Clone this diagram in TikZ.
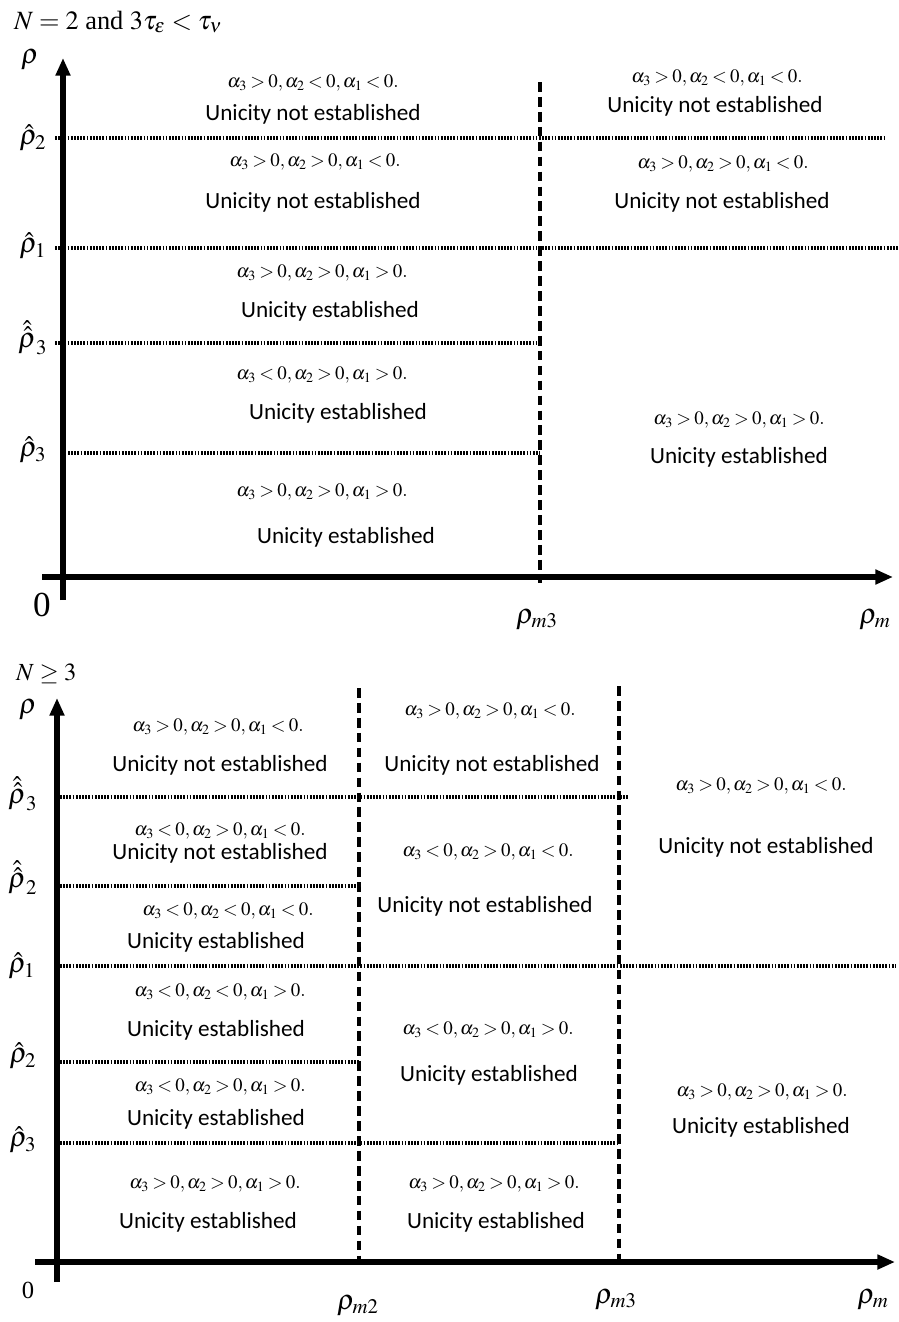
\documentclass[tikz,border=0pt]{standalone}
\usepackage{mathptmx}
\usepackage{fontspec}
\setmainfont{Liberation Serif}
\newfontfamily\calfont{Carlito}
\usetikzlibrary{arrows.meta}
\newcommand{\tightrel}{\thickmuskip=3mu\relax}
\tikzset{
    axis/.style={line width=3pt, -{Triangle[length=10pt,width=8pt]}},
    border/.style={line width=2.4pt, dash pattern=on 5.5pt off 3pt},
    level/.style={line width=1.9pt, dash pattern=on 1pt off 0.8pt},
    cond/.style={font=\fontsize{10.8}{12.5}\selectfont\tightrel},
    verdict/.style={font=\calfont\fontsize{13.2}{15}\selectfont},
    lab/.style={font=\fontsize{16}{18}\selectfont}
}

\begin{document}
\begin{tikzpicture}[x=0.02cm,y=-0.02cm]
    \useasboundingbox (0,0) rectangle (899,1322);

    % N = 2
    \node[anchor=base west, font=\fontsize{15}{17}\selectfont] (title2) at (8,29) {$N=2$ and $3\tau_{\varepsilon}<\tau_{\nu}$};
    \draw[axis] (63,600) -- (63,58);
    \draw[axis] (42,577) -- (893,577);
    \draw[border] (540,82) -- (540,583);
    \draw[level] (55,138) -- (885,138);
    \draw[level] (55,248) -- (899,248);
    \draw[level] (55,343) -- (540,343);
    \draw[level] (68,453) -- (540,453);

    \node[lab] (rho) at (30,60) {$\rho$};
    \node[lab] (r2) at (33,138) {$\hat{\rho}_2$};
    \node[lab] (r1) at (33,246) {$\hat{\rho}_1$};
    \node[lab] (rr3) at (33,338) {$\hat{\hat{\rho}}_3$};
    \node[lab] (r3) at (33,450) {$\hat{\rho}_3$};
    \node[font=\fontsize{20}{22}\selectfont] (zero2) at (42,605) {0};
    \node[lab] (rm3) at (537,620) {$\rho_{m3}$};
    \node[lab] (rm) at (875,620) {$\rho_m$};

    \node[cond] (a1) at (313,83) {$\alpha_3>0,\alpha_2<0,\alpha_1<0.$};
    \node[verdict] (u1) at (313,114) {Unicity not established};
    \node[cond] (a2) at (315,162) {$\alpha_3>0,\alpha_2>0,\alpha_1<0.$};
    \node[verdict] (u2) at (313,202) {Unicity not established};
    \node[cond] (a3) at (322,273) {$\alpha_3>0,\alpha_2>0,\alpha_1>0.$};
    \node[verdict] (u3) at (330,311) {Unicity established};
    \node[cond] (a4) at (322,375) {$\alpha_3<0,\alpha_2>0,\alpha_1>0.$};
    \node[verdict] (u4) at (338,413) {Unicity established};
    \node[cond] (a5) at (322,492) {$\alpha_3>0,\alpha_2>0,\alpha_1>0.$};
    \node[verdict] (u5) at (346,537) {Unicity established};
    \node[cond] (a6) at (717,78) {$\alpha_3>0,\alpha_2<0,\alpha_1<0.$};
    \node[verdict] (u6) at (715,106) {Unicity not established};
    \node[cond] (a7) at (723,164) {$\alpha_3>0,\alpha_2>0,\alpha_1<0.$};
    \node[verdict] (u7) at (722,202) {Unicity not established};
    \node[cond] (a8) at (739,420) {$\alpha_3>0,\alpha_2>0,\alpha_1>0.$};
    \node[verdict] (u8) at (739,457) {Unicity established};

    % N >= 3
    \node[anchor=base west, font=\fontsize{14}{16}\selectfont] (title3) at (10,680) {$N\geq 3$};
    \draw[axis] (57,1282) -- (57,698);
    \draw[axis] (35,1262) -- (895,1262);
    \draw[border] (359,688) -- (359,1268);
    \draw[border] (619,686) -- (619,1262);
    \draw[level] (60,797) -- (628,797);
    \draw[level] (60,886) -- (359,886);
    \draw[level] (60,966) -- (896,966);
    \draw[level] (60,1062) -- (359,1062);
    \draw[level] (60,1143) -- (619,1143);

    \node[lab] (brho) at (28,710) {$\rho$};
    \node[lab] (brr3) at (23,794) {$\hat{\hat{\rho}}_3$};
    \node[lab] (brr2) at (23,878) {$\hat{\hat{\rho}}_2$};
    \node[lab] (br1) at (22,966) {$\hat{\rho}_1$};
    \node[lab] (br2) at (23,1056) {$\hat{\rho}_2$};
    \node[lab] (br3) at (23,1140) {$\hat{\rho}_3$};
    \node[font=\fontsize{14}{16}\selectfont] (zero3) at (28,1290) {0};
    \node[lab] (brm2) at (358,1306) {$\rho_{m2}$};
    \node[lab] (brm3) at (616,1300) {$\rho_{m3}$};
    \node[lab] (brm) at (873,1300) {$\rho_m$};

    \node[cond] (b1) at (218,727) {$\alpha_3>0,\alpha_2>0,\alpha_1<0.$};
    \node[verdict] (v1) at (220,765) {Unicity not established};
    \node[cond] (b2) at (220,831) {$\alpha_3<0,\alpha_2>0,\alpha_1<0.$};
    \node[verdict] (v2) at (220,853) {Unicity not established};
    \node[cond] (b3) at (228,911) {$\alpha_3<0,\alpha_2<0,\alpha_1<0.$};
    \node[verdict] (v3) at (216,942) {Unicity established};
    \node[cond] (b4) at (220,992) {$\alpha_3<0,\alpha_2<0,\alpha_1>0.$};
    \node[verdict] (v4) at (216,1030) {Unicity established};
    \node[cond] (b5) at (220,1087) {$\alpha_3<0,\alpha_2>0,\alpha_1>0.$};
    \node[verdict] (v5) at (216,1119) {Unicity established};
    \node[cond] (b6) at (215,1184) {$\alpha_3>0,\alpha_2>0,\alpha_1>0.$};
    \node[verdict] (v6) at (208,1222) {Unicity established};
    \node[cond] (b7) at (490,711) {$\alpha_3>0,\alpha_2>0,\alpha_1<0.$};
    \node[verdict] (v7) at (492,765) {Unicity not established};
    \node[cond] (b8) at (488,852) {$\alpha_3<0,\alpha_2>0,\alpha_1<0.$};
    \node[verdict] (v8) at (485,906) {Unicity not established};
    \node[cond] (b9) at (488,1030) {$\alpha_3<0,\alpha_2>0,\alpha_1>0.$};
    \node[verdict] (v9) at (489,1075) {Unicity established};
    \node[cond] (b10) at (494,1184) {$\alpha_3>0,\alpha_2>0,\alpha_1>0.$};
    \node[verdict] (v10) at (496,1222) {Unicity established};
    \node[cond] (b11) at (761,786) {$\alpha_3>0,\alpha_2>0,\alpha_1<0.$};
    \node[verdict] (v11) at (766,847) {Unicity not established};
    \node[cond] (b12) at (762,1092) {$\alpha_3>0,\alpha_2>0,\alpha_1>0.$};
    \node[verdict] (v12) at (761,1127) {Unicity established};
\end{tikzpicture}
\end{document}
